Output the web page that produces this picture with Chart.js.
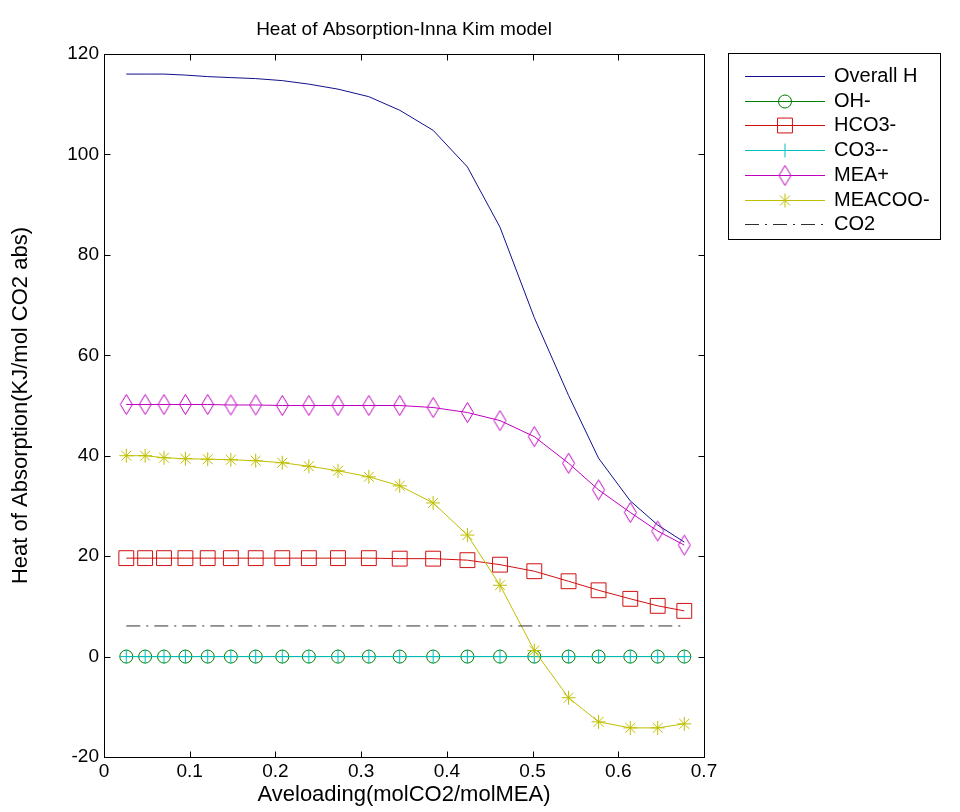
<!DOCTYPE html>
<html>
<head>
<meta charset="utf-8">
<title>Heat of Absorption-Inna Kim model</title>
<script src="https://cdn.jsdelivr.net/npm/chart.js@4.4.1/dist/chart.umd.min.js"></script>
<style>
  html, body { margin: 0; padding: 0; background: #fff; }
  #wrap { width: 960px; height: 812px; }
</style>
</head>
<body>
<div id="wrap"><canvas id="heatChart" width="960" height="812"></canvas></div>
<script>
// average loading (molCO2/molMEA)
const loading = [0.026, 0.048, 0.070, 0.095, 0.121, 0.148, 0.177, 0.208, 0.239, 0.273, 0.309,
                 0.345, 0.384, 0.424, 0.462, 0.502, 0.542, 0.577, 0.614, 0.646, 0.677];

// heat of absorption, KJ/mol CO2 abs
const overallH = [116.0, 116.0, 116.0, 115.8, 115.5, 115.3, 115.1, 114.7, 114.0, 113.0, 111.5,
                  108.8, 104.8, 97.5, 85.5, 67.5, 52.0, 39.5, 31.0, 26.2, 22.8];
const ohMinus  = [0, 0, 0, 0, 0, 0, 0, 0, 0, 0, 0, 0, 0, 0, 0, 0, 0, 0, 0, 0, 0];
const hco3     = [19.6, 19.6, 19.6, 19.6, 19.6, 19.6, 19.6, 19.6, 19.6, 19.6, 19.6,
                  19.5, 19.5, 19.2, 18.3, 17.0, 15.0, 13.2, 11.5, 10.1, 9.1];
const co3      = [0, 0, 0, 0, 0, 0, 0, 0, 0, 0, 0, 0, 0, 0, 0, 0, 0, 0, 0, 0, 0];
const meaPlus  = [50.2, 50.2, 50.2, 50.2, 50.2, 50.1, 50.1, 50.0, 50.0, 50.0, 50.0,
                  50.0, 49.6, 48.6, 47.0, 43.8, 38.5, 33.2, 28.7, 25.0, 22.2];
const meacoo   = [40.0, 40.0, 39.6, 39.4, 39.3, 39.2, 39.0, 38.6, 37.9, 37.0, 35.8,
                  34.0, 30.6, 24.2, 14.2, 1.2, -8.2, -13.0, -14.2, -14.2, -13.4];
const co2      = [6.1, 6.1, 6.1, 6.1, 6.1, 6.1, 6.1, 6.1, 6.1, 6.1, 6.1,
                  6.1, 6.1, 6.1, 6.1, 6.1, 6.1, 6.1, 6.1, 6.1, 6.1];

const seriesNames = ['Overall H', 'OH-', 'HCO3-', 'CO3--', 'MEA+', 'MEACOO-', 'CO2'];

const xTicks = [0, 0.1, 0.2, 0.3, 0.4, 0.5, 0.6, 0.7];
const xTickLabels = ['0', '0.1', '0.2', '0.3', '0.4', '0.5', '0.6', '0.7'];
const yTicks = [-20, 0, 20, 40, 60, 80, 100, 120];
const yTickLabels = ['-20', '0', '20', '40', '60', '80', '100', '120'];

const FONT = '"Liberation Sans", Arial, Helvetica, sans-serif';

// tall diamond marker like the matlab 'd'
function diamondMarker(color) {
  const c = document.createElement('canvas');
  c.width = 15; c.height = 23;
  const g = c.getContext('2d');
  g.strokeStyle = color;
  g.lineWidth = 1;
  g.beginPath();
  g.moveTo(7.5, 1.5);
  g.lineTo(13.5, 11.5);
  g.lineTo(7.5, 21.5);
  g.lineTo(1.5, 11.5);
  g.closePath();
  g.stroke();
  return c;
}

function pts(ys) {
  return loading.map((x, i) => ({ x: x, y: ys[i] }));
}

function series(name, ys, color, marker, radius, dash) {
  return {
    label: name,
    data: pts(ys),
    borderColor: color,
    backgroundColor: color,
    borderWidth: 1,
    borderDash: dash || [],
    pointStyle: marker || false,
    pointRadius: marker ? radius : 0,
    pointBorderColor: color,
    pointBackgroundColor: 'rgba(0,0,0,0)',
    pointBorderWidth: 1,
    tension: 0
  };
}

const datasets = [
  series(seriesNames[0], overallH, '#10108a', null, 0),
  series(seriesNames[1], ohMinus, '#008000', 'circle', 6.5),
  series(seriesNames[2], hco3, '#d01010', 'rect', 10.5),
  series(seriesNames[3], co3, '#00bfbf', 'cross', 7),
  series(seriesNames[4], meaPlus, '#bf00bf', diamondMarker('#bf00bf'), 8),
  series(seriesNames[5], meacoo, '#bfbf00', 'star', 7),
  series(seriesNames[6], co2, '#303030', null, 0, [14, 6, 2, 6])
];
// later series on top, like matlab
datasets.forEach((d, i) => { d.order = datasets.length - i; });

// box, inward ticks, title
const boxPlugin = {
  id: 'matlabBox',
  afterDraw(chart) {
    const { ctx, chartArea: a, scales } = chart;
    const L = Math.round(a.left) + 0.5, R = Math.round(a.right) + 0.5;
    const T = Math.round(a.top) + 0.5, B = Math.round(a.bottom) + 0.5;
    ctx.save();
    ctx.strokeStyle = '#000';
    ctx.lineWidth = 1;
    ctx.strokeRect(L, T, R - L, B - T);
    ctx.beginPath();
    scales.x.ticks.forEach(t => {
      const px = Math.round(scales.x.getPixelForValue(t.value)) + 0.5;
      ctx.moveTo(px, B); ctx.lineTo(px, B - 6);
      ctx.moveTo(px, T); ctx.lineTo(px, T + 6);
    });
    scales.y.ticks.forEach(t => {
      const py = Math.round(scales.y.getPixelForValue(t.value)) + 0.5;
      ctx.moveTo(L, py); ctx.lineTo(L + 6, py);
      ctx.moveTo(R, py); ctx.lineTo(R - 6, py);
    });
    ctx.stroke();

    ctx.fillStyle = '#000';
    ctx.font = '19px ' + FONT;
    ctx.textAlign = 'center';
    ctx.textBaseline = 'middle';
    ctx.fillText('Heat of Absorption-Inna Kim model', (a.left + a.right) / 2, 30);
    ctx.restore();
  }
};

// matlab style legend box on the right
const legendPlugin = {
  id: 'matlabLegend',
  afterDraw(chart) {
    const ctx = chart.ctx;
    const left = 728.5, top = 53.5, w = 212, h = 186;
    const rowTop = 76, rowStep = 24.7;
    ctx.save();
    ctx.fillStyle = '#fff';
    ctx.fillRect(left, top, w, h);
    ctx.strokeStyle = '#000';
    ctx.lineWidth = 1;
    ctx.strokeRect(left, top, w, h);
    chart.data.datasets.forEach((ds, i) => {
      const y = Math.round(rowTop + i * rowStep) + 0.5;
      ctx.strokeStyle = ds.borderColor;
      ctx.setLineDash(ds.borderDash || []);
      ctx.beginPath();
      ctx.moveTo(745, y);
      ctx.lineTo(825, y);
      ctx.stroke();
      ctx.setLineDash([]);
      if (ds.pointStyle) {
        ctx.strokeStyle = ds.pointBorderColor;
        ctx.fillStyle = 'rgba(0,0,0,0)';
        Chart.helpers.drawPoint(ctx, {
          pointStyle: ds.pointStyle, radius: ds.pointRadius, rotation: 0, borderWidth: 1
        }, 785, y);
      }
      ctx.fillStyle = '#000';
      ctx.font = '20px ' + FONT;
      ctx.textAlign = 'left';
      ctx.textBaseline = 'middle';
      ctx.fillText(ds.label, 834, y);
    });
    ctx.restore();
  }
};

Chart.defaults.font.family = FONT;
Chart.defaults.font.size = 19;
Chart.defaults.color = '#000';

new Chart(document.getElementById('heatChart'), {
  type: 'line',
  data: { datasets: datasets },
  options: {
    responsive: false,
    animation: false,
    layout: { padding: { top: 54, right: 256, bottom: 0, left: 0 } },
    plugins: { legend: { display: false }, tooltip: { enabled: false } },
    scales: {
      x: {
        type: 'linear',
        min: 0, max: 0.7,
        afterBuildTicks: s => { s.ticks = xTicks.map(v => ({ value: v })); },
        afterFit: s => { s.height = 812 - 757; },
        ticks: { padding: 3, maxRotation: 0, callback: (v, i) => xTickLabels[i] },
        grid: { display: false, drawTicks: false },
        border: { display: false },
        title: { display: true, text: 'Aveloading(molCO2/molMEA)', font: { size: 22 }, padding: { top: 0, bottom: 4 } }
      },
      y: {
        type: 'linear',
        min: -20, max: 120,
        afterBuildTicks: s => { s.ticks = yTicks.map(v => ({ value: v })); },
        afterFit: s => { s.width = 104; },
        ticks: { padding: 5, callback: (v, i) => yTickLabels[i] },
        grid: { display: false, drawTicks: false },
        border: { display: false },
        title: { display: true, text: 'Heat of Absorption(KJ/mol CO2 abs)', font: { size: 22 }, padding: { top: 8, bottom: 0 } }
      }
    }
  },
  plugins: [boxPlugin, legendPlugin]
});
</script>
</body>
</html>
